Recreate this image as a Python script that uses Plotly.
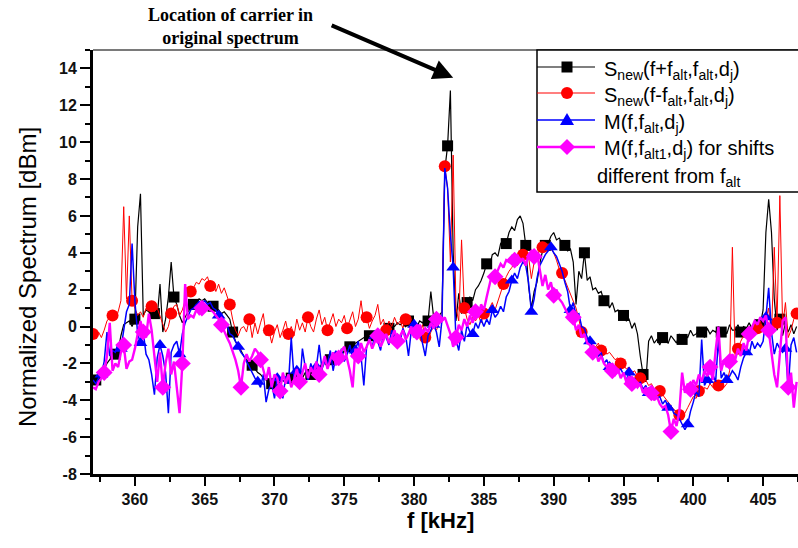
import plotly.graph_objects as go

# Frequency grid of the measured spectra (kHz)
F_START = 357.0
F_STEP = 0.2

# S_new(f+f_alt, f_alt, d_j)  [dBm]
s_plus = [
    -2.8, -2.9, -2.7, -2.6, -2.3, -2.0, -1.8, -1.6, -1.5, -1.3,
    -0.5, 0.1, 0.2, 0.3, 0.0, 0.4, 5.4, 7.2, 0.6, 0.9,
    0.8, 0.5, 0.7, 0.5, 2.3, -0.3, 0.4, 1.6, 3.5, 1.6,
    1.2, 0.6, 0.2, 0.5, 0.8, 1.0, 1.2, 1.3, 1.5, 1.4,
    1.5, 1.3, 1.2, 1.1, 1.0, 0.9, 0.7, 0.8, 0.6, 0.4,
    -0.3, -0.8, -1.0, -1.3, -1.6, -1.8, -2.0, -2.1, -2.3, -2.5,
    -2.6, -2.8, -2.9, -3.0, -3.1, -2.9, -3.2, -3.0, -2.9, -3.1,
    -3.0, -2.8, -2.9, -2.7, -2.6, -2.8, -2.5, -2.4, -2.6, -2.3,
    -2.2, -2.3, -2.0, -1.9, -2.1, -1.8, -1.7, -1.8, -1.5, -1.6,
    -1.3, -1.2, -1.1, -1.0, -0.9, -0.8, -0.7, -0.6, -0.5, -0.5,
    -0.4, -0.3, -0.2, -0.3, -0.1, 0.0, -0.1, 0.1, 0.0, 0.2,
    0.1, 0.2, 0.0, 0.3, 0.1, 0.2, 0.0, 0.3, 0.2, 0.4,
    0.3, 1.9, 0.5, 0.4, 0.6, 0.8, 8.5, 9.8, 12.8, 4.0,
    0.3, 1.8, 0.7, 1.1, 1.3, 1.6, 1.4, 2.0, 2.2, 2.5,
    2.9, 3.4, 3.2, 3.9, 4.0, 3.8, 4.5, 4.7, 4.5, 5.1,
    5.4, 5.2, 5.8, 6.0, 5.6, 4.4, 2.2, 1.0, 1.9, 2.4,
    3.4, 4.1, 4.4, 4.5, 4.9, 5.1, 4.7, 4.8, 4.5, 4.4,
    4.1, 4.2, 3.5, 1.2, 3.0, 2.6, 4.0, 2.5, 2.7, 2.0,
    2.1, 1.8, 1.9, 1.4, 1.5, 1.0, 1.3, 0.8, 0.9, 0.4,
    0.6, 0.3, 0.4, -0.1, 0.2, -0.4, -1.6, -2.6, -3.0, -0.8,
    -0.5, -0.9, -0.7, -1.0, -0.6, -0.8, -0.9, -0.5, -0.7, -0.9,
    -0.4, -0.7, -0.5, -0.6, -0.2, -0.5, -0.4, -0.2, -0.3, -0.6,
    -0.1, -0.4, -0.2, -0.3, 0.0, -0.3, -0.1, -0.4, 0.1, -0.2,
    -0.2, 0.1, -0.3, 0.0, -0.1, 0.2, -0.1, 0.3, -0.2, 0.1,
    0.9, 5.1, 6.9, 5.1, 1.5, -0.2, 0.4, -0.5, 0.2, -0.3,
    0.1, -0.4, 0.0,
]

# S_new(f-f_alt, f_alt, d_j)  [dBm]
s_minus = [
    -0.4, -0.5, -0.3, -0.6, -0.2, 0.3, 0.5, 0.6, 0.4, 0.8,
    1.4, 6.5, 1.5, 6.0, 1.4, 1.0, 0.6, 0.8, 0.5, 1.0,
    0.9, 1.1, 0.8, 1.0, 0.6, 0.2, -0.3, 0.0, 0.7, 1.1,
    1.2, 0.6, 0.9, 1.4, 1.7, 1.9, 2.1, 2.4, 2.3, 2.6,
    2.5, 2.7, 2.2, 2.4, 1.9, 2.3, 1.8, 2.1, 1.6, 1.2,
    0.4, -0.2, -0.5, -0.1, 0.0, -0.3, 0.4, -0.6, 0.2, -0.4,
    0.2, 0.7, -0.5, -0.2, -0.9, -0.3, 0.1, -0.6, -0.2, 0.3,
    -0.4, 0.0, -0.5, 0.4, -0.2, 0.2, -0.3, 0.5, 0.0, -0.3,
    0.4, 0.9, 0.1, 0.5, -0.2, 0.3, 0.7, 0.0, 0.4, 0.2,
    0.6, -0.1, 0.3, 0.8, 0.0, 0.4, 1.4, 0.2, 0.5, -0.1,
    0.3, 0.6, 1.2, 0.1, 0.4, -0.2, 0.3, 0.0, 0.5, 0.1,
    0.3, -0.1, 0.4, 0.2, -0.3, 0.2, 0.0, -0.4, 0.1, -0.6,
    -0.8, -0.3, 0.0, -0.2, 0.2, 0.5, 8.7, 7.5, 3.5, 9.3,
    1.0, 0.3, 4.7, 1.0, 0.4, 0.1, 0.5, 0.3, 0.6, 0.2,
    0.7, 0.4, 1.0, 1.3, 0.9, 1.4, 1.9, 2.3, 2.7, 3.0,
    3.2, 3.5, 3.3, 3.6, 3.9, 3.4, 3.8, 2.6, 3.5, 3.9,
    4.1, 4.3, 4.1, 4.5, 4.2, 4.0, 3.6, 3.1, 2.9, 2.5,
    2.1, 1.8, 1.4, 1.0, 0.4, -0.3, -0.1, -0.6, -0.8, -1.0,
    -1.1, -0.9, -1.3, -1.2, -1.5, -1.4, -1.6, -1.8, -1.7, -2.0,
    -2.1, -2.3, -2.2, -2.5, -2.4, -2.7, -2.8, -3.0, -2.9, -3.2,
    -3.1, -3.4, -3.3, -3.5, -3.7, -3.9, -4.1, -4.3, -4.5, -4.6,
    -4.8, -4.9, -4.7, -4.4, -4.1, -3.8, -3.9, -3.5, -3.7, -3.3,
    -3.4, -3.1, -3.3, -3.0, -3.2, -2.9, -3.3, -3.1, -2.4, 4.3,
    -1.8, -1.2, -0.8, -0.5, -0.2, 0.0, -0.3, 0.2, -0.1, 0.3,
    -0.2, 0.4, 1.0, -0.5, 4.3, 0.2, 7.1, 0.0, 1.3, -0.6,
    -0.2, 0.4, 0.7,
]

# M(f, f_alt, d_j)  [dBm]
m_alt = [
    -2.9, -3.1, -2.8, -2.6, -1.9, -0.3, -1.6, -1.3, -1.4, -0.9,
    -1.2, -0.3, 0.8, 1.2, 4.5, 1.4, -0.4, -0.9, -0.3, -1.5,
    -1.8, -2.6, -3.7, -1.7, -1.0, -1.6, -2.5, -4.7, -1.4, -1.0,
    -0.8, -1.5, -0.4, 0.2, 0.6, 0.9, 1.0, 1.2, 1.1, 1.3,
    1.4, 1.2, 1.3, 1.0, 0.9, 0.6, 0.7, 0.3, 0.1, -0.4,
    -0.5, -0.8, -1.1, -1.4, -1.6, -1.9, -2.2, -2.5, -2.8, -3.0,
    -3.3, -2.6, -4.1, -3.4, -3.1, -3.9, -2.8, -3.2, -3.9, -2.7,
    -3.1, -0.6, -2.8, -2.4, -3.3, -1.2, -2.2, -2.9, -2.0, -2.5,
    -2.2, -1.0, -2.3, -1.9, -2.0, -1.3, -2.4, -1.6, -1.8, -1.2,
    -1.9, -1.5, -1.0, -1.7, -1.3, -0.8, -1.6, -3.2, -1.1, -0.7,
    -1.1, -0.5, -0.8, -1.3, -0.4, -0.6, -1.0, -0.2, -0.7, -0.4,
    -0.8, -0.1, -0.5, -1.6, -0.2, 0.1, -0.6, -0.1, -0.9, -1.6,
    -0.5, -0.2, 0.1, -0.3, -1.1, 0.4, 8.6, 7.5, 5.0, 3.2,
    -0.7, -1.3, -0.2, -0.8, 0.1, -0.3, -0.4, 0.2, -0.1, 0.4,
    0.0, 0.4, 0.1, 0.9, 0.5, 0.7, 1.1, 0.8, 1.6, 1.9,
    2.5, 2.9, 2.6, 3.2, 3.5, 3.3, 2.4, 0.8, 1.5, 2.6,
    3.3, 3.6, 3.9, 4.1, 4.3, 4.0, 3.8, 3.4, 3.0, 2.4,
    1.9, 0.9, 1.3, 0.6, 0.7, 0.0, -0.1, -0.6, -0.8, -1.1,
    -1.3, -1.6, -1.4, -2.0, -1.8, -2.2, -2.0, -2.5, -2.4, -2.3,
    -2.6, -2.9, -2.5, -3.1, -2.8, -3.3, -3.0, -3.4, -3.2, -3.6,
    -3.5, -3.7, -3.9, -3.8, -4.2, -4.0, -4.4, -4.3, -4.7, -4.8,
    -5.0, -5.3, -5.6, -5.3, -4.6, -4.1, -3.5, -3.8, -0.7, -3.2,
    -2.9, -3.1, -2.6, -3.0, -0.7, -2.8, -2.5, -2.9, -2.7, -2.4,
    -2.6, -2.9, -2.2, -1.7, -1.4, -1.5, -0.8, -1.2, -0.9, -1.1,
    -0.8, 0.5, 2.1, -0.3, -1.5, -0.9, -1.2, -1.4, -1.2, -3.4,
    -1.0, -0.6, -1.4,
]

# M(f, f_alt1, d_j) for shifts different from f_alt  [dBm]
m_alt1 = [
    -3.3, -3.4, -3.0, -2.8, -2.5, -1.6, 0.2, -2.4, -2.0, -2.2,
    -1.4, -1.0, -2.3, -1.9, -1.8, -1.2, -0.4, 0.3, -0.3, -0.6,
    0.7, -0.2, -1.6, -3.0, -1.4, -3.3, -2.0, -1.2, -2.6, -1.9,
    -3.3, -4.7, -2.0, 2.3, 0.4, 0.6, 0.5, 0.9, 0.7, 1.0,
    1.1, 1.0, 0.9, 0.8, 0.6, 0.4, 0.1, -0.3, -0.6, -0.9,
    -1.3, -1.8, -2.4, -3.3, -2.0, -1.5, -1.9, -1.6, -1.2, -1.4,
    -1.8, -2.4, -2.9, -2.2, -3.3, -2.6, -2.8, -3.5, -2.5, -3.1,
    -2.6, -3.3, -2.9, -2.3, -3.0, -2.5, -2.0, -2.8, -2.2, -2.6,
    -1.9, -2.6, -2.2, -1.6, -2.3, -1.8, -1.4, -2.1, -1.7, -1.3,
    -1.1, -1.8, -2.4, -3.3, -1.2, -1.6, -0.9, -1.4, -1.1, -0.7,
    -1.2, -0.8, -0.5, -1.1, -0.7, -0.4, -0.9, -0.6, -0.2, -0.8,
    -0.5, -0.2, -0.7, -0.4, 0.0, -0.6, -0.3, 0.1, -0.4, -0.1,
    -0.3, 0.2, -0.1, 0.4, 0.6, 0.3, 0.5, 0.1, -0.4, -1.1,
    -0.6, 0.1, -0.2, 0.4, 0.0, 0.6, 0.2, 0.8, 0.5, 1.2,
    0.9, 1.6, 2.3, 2.9, 2.7, 3.1, 3.4, 3.2, 3.6, 3.5,
    3.8, 3.6, 3.9, 3.5, 3.7, 3.3, 3.9, 4.1, 3.8, 4.0,
    3.1, 2.2, 2.8, 2.0, 2.4, 1.7, 2.0, 1.5, 1.3, 1.0,
    0.7, 0.3, 0.5, -0.2, 0.1, -0.6, -0.4, -0.9, -1.0, -1.4,
    -1.3, -1.9, -1.6, -2.0, -2.2, -2.0, -2.4, -2.6, -2.3, -2.8,
    -2.5, -3.0, -2.7, -3.1, -3.0, -3.3, -3.1, -3.6, -3.3, -3.7,
    -3.6, -4.0, -3.8, -4.2, -4.4, -4.3, -4.8, -5.7, -5.0, -5.4,
    -4.6, -2.5, -3.6, -3.1, -3.4, -2.9, -3.2, -2.6, -3.0, -2.4,
    -2.7, -2.2, -2.9, -1.3, 0.0, -2.4, -1.8, -2.2, -1.9, -1.5,
    -1.8, -1.2, -1.6, -0.9, -1.3, -0.4, 0.0, 0.3, 0.1, 0.5,
    0.3, 0.6, -0.2, -1.5, -2.6, -3.3, -1.4, 0.3, 0.5, -3.3,
    -2.5, -4.4, -3.0,
]

x_tick_vals = [360, 365, 370, 375, 380, 385, 390, 395, 400, 405]
y_tick_vals = [-8, -6, -4, -2, 0, 2, 4, 6, 8, 10, 12, 14]
y_tick_text = ["-8", "-6", "-4", "-2", "0", "2", "4", "6", "8", "10", "12", "14"]

legend_labels = [
    "S<sub>new</sub>(f+f<sub>alt</sub>,f<sub>alt</sub>,d<sub>j</sub>)",
    "S<sub>new</sub>(f-f<sub>alt</sub>,f<sub>alt</sub>,d<sub>j</sub>)",
    "M(f,f<sub>alt</sub>,d<sub>j</sub>)",
    "M(f,f<sub>alt1</sub>,d<sub>j</sub>) for shifts",
]
legend_extra = "different from f<sub>alt</sub>"

freq = [round(F_START + i * F_STEP, 1) for i in range(len(s_plus))]

# Origin-style symbols: one marker every MARK_EVERY samples
MARK_EVERY = 7
styles = [
    dict(vals=s_plus, color="#000000", width=1.2, symbol="square", size=11, offset=1),
    dict(vals=s_minus, color="#FF0000", width=1.0, symbol="circle", size=12, offset=0),
    dict(vals=m_alt, color="#0000FF", width=1.5, symbol="triangle-up", size=12, offset=3),
    dict(vals=m_alt1, color="#FF00FF", width=2.4, symbol="diamond", size=13, offset=4),
]

fig = go.Figure()
for st in styles:
    fig.add_trace(go.Scatter(
        x=freq, y=st["vals"], mode="lines",
        line=dict(color=st["color"], width=st["width"]),
        hoverinfo="skip",
    ))
    fig.add_trace(go.Scatter(
        x=freq[st["offset"]::MARK_EVERY], y=st["vals"][st["offset"]::MARK_EVERY],
        mode="markers",
        marker=dict(symbol=st["symbol"], size=st["size"], color=st["color"],
                    line=dict(width=0)),
        hoverinfo="skip",
    ))

W, H = 798, 548
L, R, T, B = 93, 0, 50, 74
PW, PH = W - L - R, H - T - B


def px(x):
    return (x - L) / PW


def py(y):
    return (H - B - y) / PH


SANS = "Arial, Liberation Sans, sans-serif"
SERIF = "Times New Roman, Liberation Serif, serif"

fig.update_layout(
    width=W, height=H,
    margin=dict(l=L, r=R, t=T, b=B, pad=0),
    plot_bgcolor="white", paper_bgcolor="white",
    showlegend=False,
    font=dict(family=SANS, color="black"),
)

fig.update_xaxes(
    range=[357, 407.5], tickmode="array", tickvals=x_tick_vals,
    ticks="outside", ticklen=9, tickwidth=2, tickcolor="black",
    showline=True, linecolor="black", linewidth=2.5,
    showgrid=False, zeroline=False,
    tickfont=dict(family=SANS, size=16, color="#111111", weight="bold"),
    minor=dict(ticks="outside", tickmode="linear", tick0=357.5, dtick=2.5,
               ticklen=5, tickwidth=1.5, tickcolor="black", showgrid=False),
)
fig.update_yaxes(
    range=[-8, 15], tickmode="array", tickvals=y_tick_vals, ticktext=y_tick_text,
    ticks="outside", ticklen=10, tickwidth=2, tickcolor="black",
    showline=True, linecolor="black", linewidth=3,
    showgrid=False, zeroline=False,
    tickfont=dict(family=SANS, size=16, color="#111111", weight="bold"),
    minor=dict(ticks="outside", tickmode="linear", tick0=-8, dtick=1,
               ticklen=5, tickwidth=1.5, tickcolor="black", showgrid=False),
)

shapes = [
    # top frame line
    dict(type="line", xref="paper", yref="paper", x0=0, x1=1, y0=1, y1=1,
         line=dict(color="#7a7a7a", width=2), layer="above"),
    # legend box
    dict(type="rect", xref="paper", yref="paper", x0=px(537), x1=px(806),
         y0=py(192), y1=py(50), line=dict(color="black", width=1.5),
         fillcolor="white", layer="above"),
]

key_rows = [67, 93, 120, 147]
key_x0, key_x1, key_xm = 537, 595, 567
for row, st in zip(key_rows, styles):
    shapes.append(dict(type="line", xref="paper", yref="paper",
                       x0=px(key_x0), x1=px(key_x1), y0=py(row), y1=py(row),
                       line=dict(color=st["color"], width=max(st["width"], 1.2)),
                       layer="above"))

# legend symbols
sq = 5.5
shapes.append(dict(type="rect", xref="paper", yref="paper",
                   x0=px(key_xm - sq), x1=px(key_xm + sq),
                   y0=py(key_rows[0] + sq), y1=py(key_rows[0] - sq),
                   fillcolor="#000000", line=dict(width=0), layer="above"))
rc = 6
shapes.append(dict(type="circle", xref="paper", yref="paper",
                   x0=px(key_xm - rc), x1=px(key_xm + rc),
                   y0=py(key_rows[1] + rc), y1=py(key_rows[1] - rc),
                   fillcolor="#FF0000", line=dict(width=0), layer="above"))
ty = key_rows[2]
tri = (f"M {px(key_xm)},{py(ty - 7)} L {px(key_xm + 7)},{py(ty + 5)} "
       f"L {px(key_xm - 7)},{py(ty + 5)} Z")
shapes.append(dict(type="path", xref="paper", yref="paper", path=tri,
                   fillcolor="#0000FF", line=dict(width=0), layer="above"))
dy = key_rows[3]
dia = (f"M {px(key_xm)},{py(dy - 8)} L {px(key_xm + 8)},{py(dy)} "
       f"L {px(key_xm)},{py(dy + 8)} L {px(key_xm - 8)},{py(dy)} Z")
shapes.append(dict(type="path", xref="paper", yref="paper", path=dia,
                   fillcolor="#FF00FF", line=dict(width=0), layer="above"))

annotations = []
for row, label in zip(key_rows, legend_labels):
    annotations.append(dict(text=label, xref="paper", yref="paper",
                            x=px(602), y=py(row + 3), xanchor="left", yanchor="middle",
                            showarrow=False, font=dict(family=SANS, size=20, color="black")))
annotations.append(dict(text=legend_extra, xref="paper", yref="paper",
                        x=px(595), y=py(177), xanchor="left", yanchor="middle",
                        showarrow=False, font=dict(family=SANS, size=20, color="black")))

# axis titles
annotations.append(dict(text="Normalized Spectrum [dBm]", xref="paper", yref="paper",
                        x=px(27), y=py(277), textangle=-90,
                        xanchor="center", yanchor="middle", showarrow=False,
                        font=dict(family=SANS, size=24, color="black")))
annotations.append(dict(text="<b>f [kHz]</b>", xref="paper", yref="paper",
                        x=px(440), y=py(520), xanchor="center", yanchor="middle",
                        showarrow=False, font=dict(family=SANS, size=22, color="black")))

# note pointing at the carrier
annotations.append(dict(text="<b>Location of carrier in<br>original spectrum</b>",
                        xref="paper", yref="paper", x=px(230), y=py(26),
                        xanchor="center", yanchor="middle", showarrow=False,
                        font=dict(family=SERIF, size=18, color="black")))
annotations.append(dict(text="", x=382.8, y=13.5, xref="x", yref="y",
                        ax=-123, ay=-53, showarrow=True, arrowhead=2,
                        arrowsize=1, arrowwidth=4, arrowcolor="black", standoff=0))

fig.update_layout(shapes=shapes, annotations=annotations)

fig.write_html("out.html")
